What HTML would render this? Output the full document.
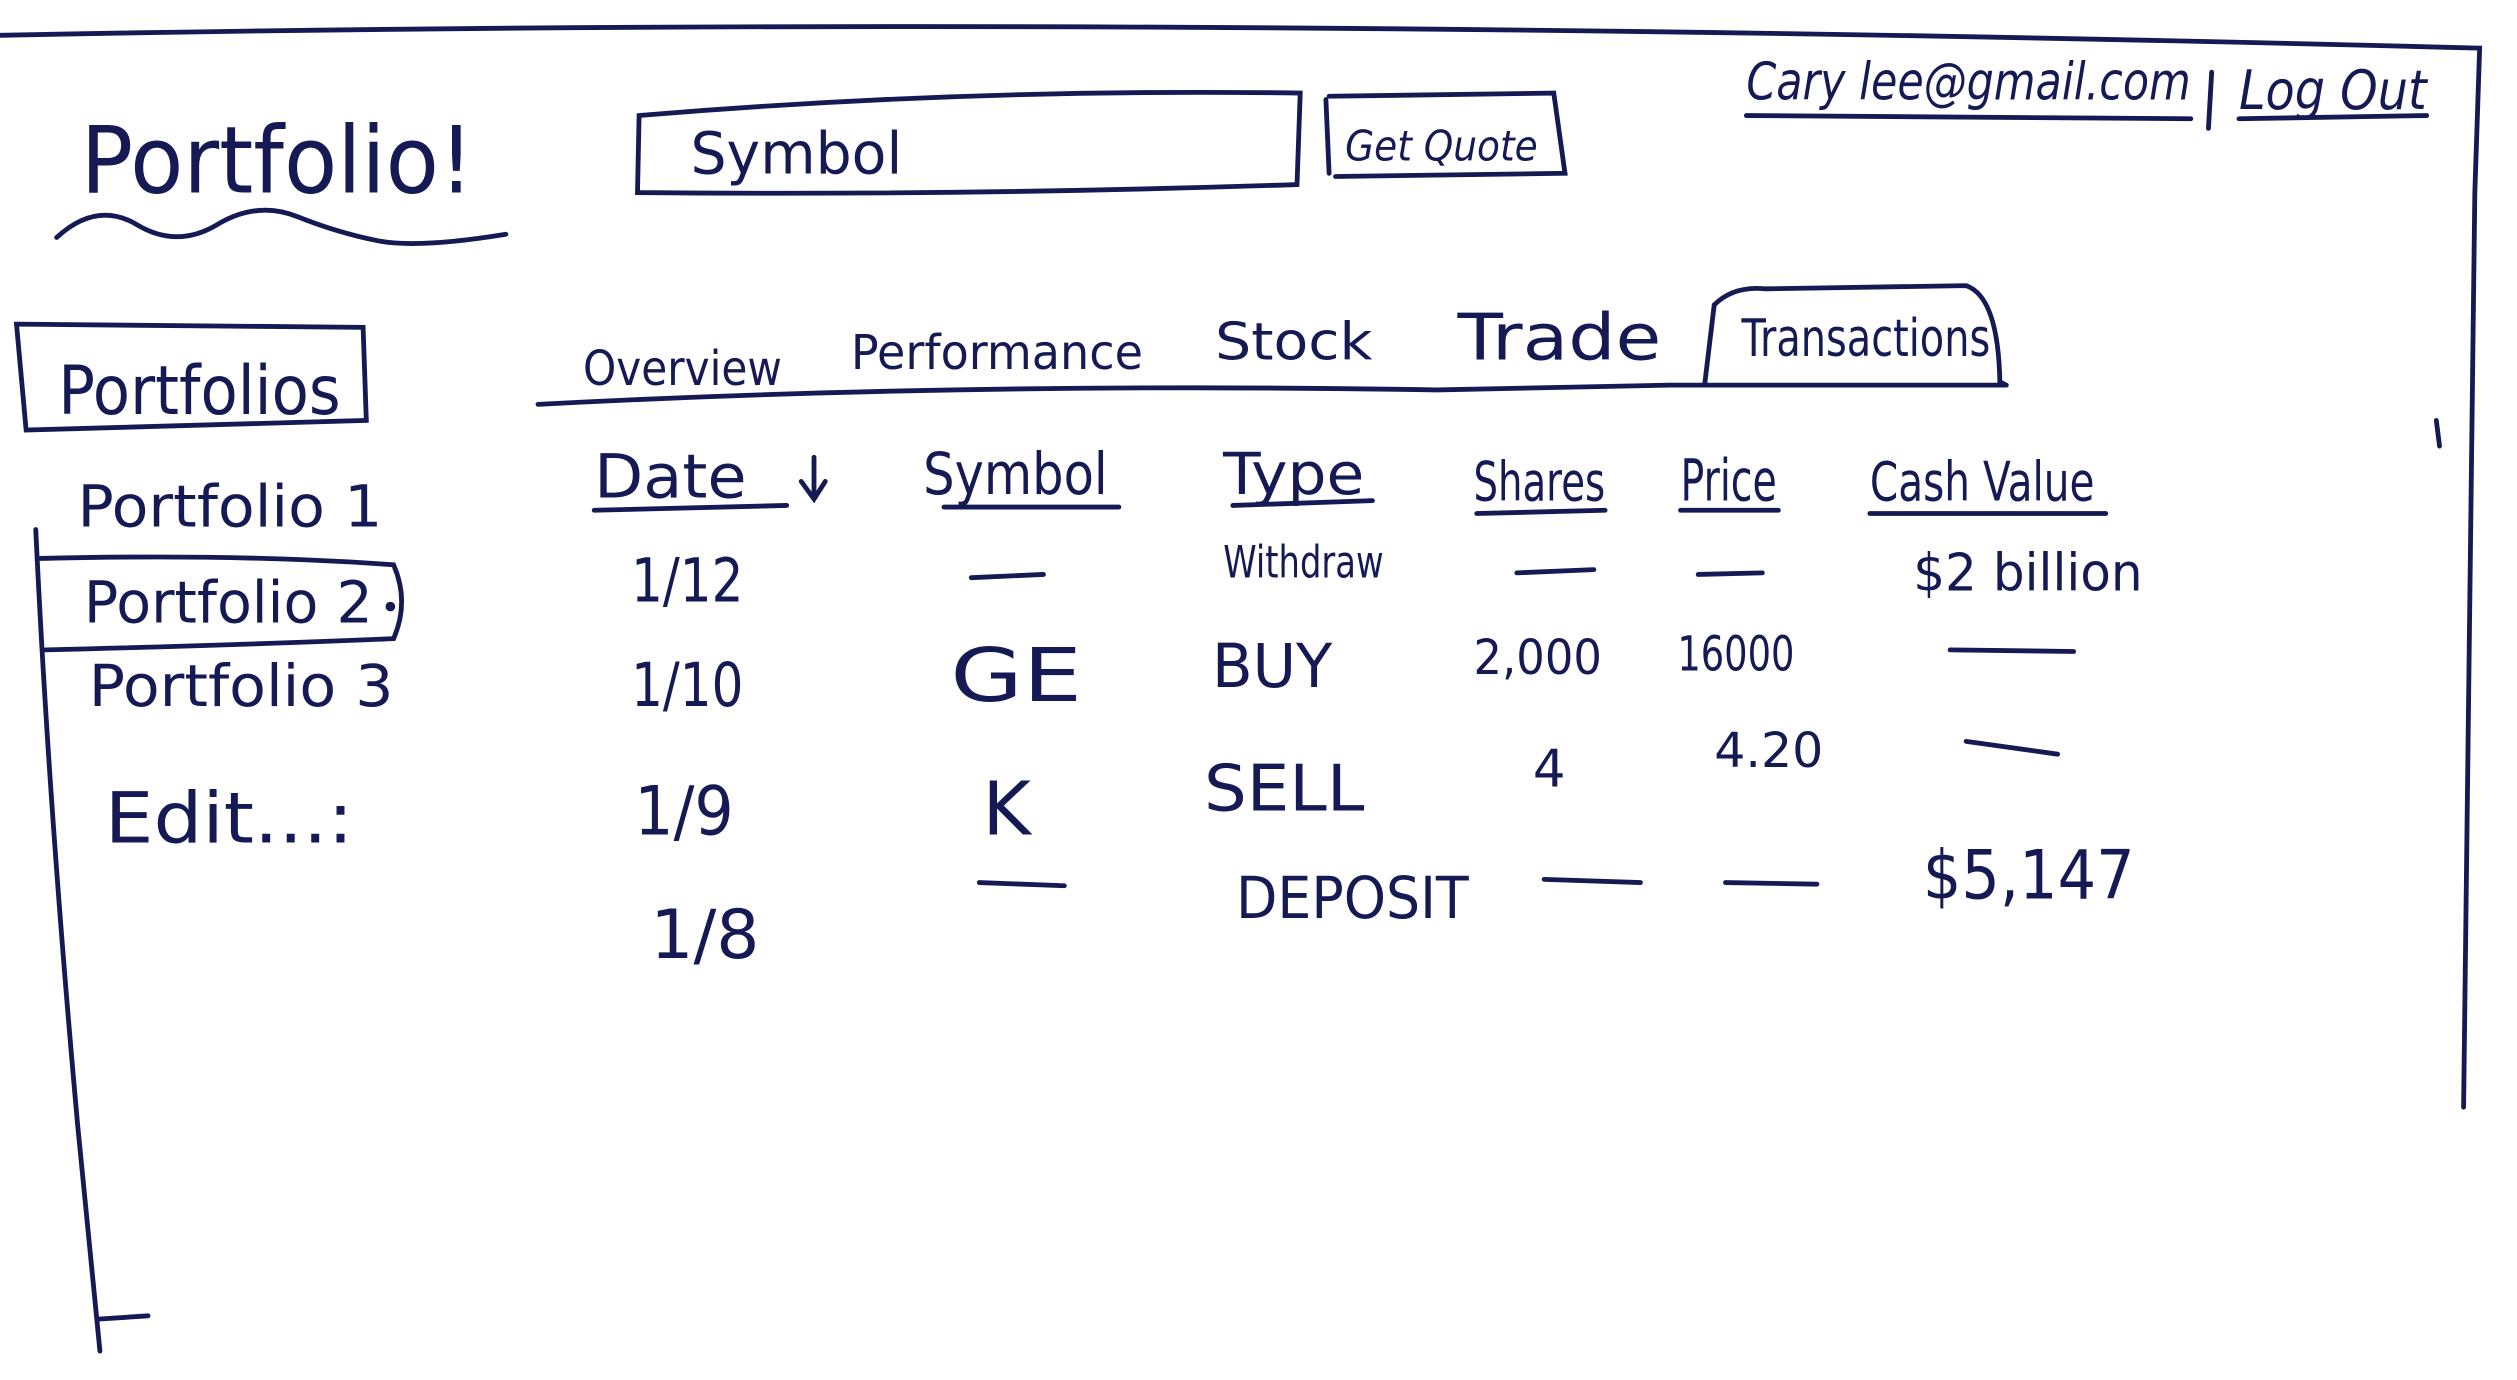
<!DOCTYPE html>
<html><head><meta charset="utf-8"><style>
html,body{margin:0;padding:0;background:#fff;width:2517px;height:1380px;overflow:hidden}
svg{display:block}
text{font-family:"DejaVu Sans","Liberation Sans",sans-serif;fill:#151a55}
</style></head><body>
<svg width="2517" height="1380" viewBox="0 0 1568 860" xmlns="http://www.w3.org/2000/svg">
<g fill="none" stroke="#151a55" stroke-width="3" stroke-linecap="round">
<path d="M0 22 Q700 8 1545 30 L1542 120 L1535 690"/>
<path d="M22 330 Q30 500 48 700 L62 842"/>
<path d="M62 822 L92 820"/>
<path d="M1518 262 L1520 278"/>
<path d="M35 148 Q60 125 85 140 T135 140 T185 135 T235 150 T315 146"/>
<path d="M398 72 Q600 55 810 58 L808 115 Q600 122 397 120 Z"/>
<path d="M828 60 L968 58 L975 108 L832 110"/>
<path d="M826 62 L828 108"/>
<path d="M1088 72 L1365 74"/>
<path d="M1378 45 L1376 80"/>
<path d="M1395 74 L1512 72"/>
<path d="M10 202 L226 204 L228 262 L16 268 Z"/>
<path d="M25 348 Q150 345 245 352 Q255 375 245 398 Q150 402 28 405"/>
<path d="M335 252 Q600 238 895 243 L1040 240"/>
<path d="M1062 240 L1068 190 Q1080 178 1100 180 L1225 178 Q1245 185 1246 238 L1250 240"/>
<path d="M1040 240 L1250 240"/>
<path d="M370 318 L490 315"/>
<path d="M588 316 L697 316"/>
<path d="M768 315 L855 312"/>
<path d="M920 320 L1000 318"/>
<path d="M1047 318 L1108 318"/>
<path d="M1165 320 L1312 320"/>
<path d="M507 285 L507 310 M499 300 L507 311 L514 300"/>
<path d="M605 360 L650 358"/>
<path d="M945 357 L993 355"/>
<path d="M1058 358 L1098 357"/>
<path d="M1215 405 L1292 406"/>
<path d="M1225 462 L1282 470"/>
<path d="M610 550 L663 552"/>
<path d="M962 548 L1022 550"/>
<path d="M1075 550 L1132 551"/>
</g>
<g lengthAdjust="spacingAndGlyphs">
<text x="50" y="120" font-size="58" textLength="245" lengthAdjust="spacingAndGlyphs">Portfolio!</text>
<text x="430" y="108" font-size="36" textLength="132" lengthAdjust="spacingAndGlyphs">Symbol</text>
<text x="838" y="100" font-size="26" font-style="italic" textLength="120" lengthAdjust="spacingAndGlyphs">Get Quote</text>
<text x="1088" y="62" font-size="32" font-style="italic" textLength="277" lengthAdjust="spacingAndGlyphs">Cary lee@gmail.com</text>
<text x="1395" y="68" font-size="34" font-style="italic" textLength="117" lengthAdjust="spacingAndGlyphs">Log Out</text>
<text x="36" y="258" font-size="42" textLength="176" lengthAdjust="spacingAndGlyphs">Portfolios</text>
<text x="48" y="328" font-size="36" textLength="190" lengthAdjust="spacingAndGlyphs">Portfolio 1</text>
<text x="52" y="388" font-size="36" textLength="180" lengthAdjust="spacingAndGlyphs">Portfolio 2</text>
<circle cx="243" cy="378" r="3" fill="#151a55"/>
<text x="55" y="440" font-size="36" textLength="190" lengthAdjust="spacingAndGlyphs">Portfolio 3</text>
<text x="65" y="525" font-size="44" textLength="155" lengthAdjust="spacingAndGlyphs">Edit...:</text>
<text x="363" y="240" font-size="30" textLength="124" lengthAdjust="spacingAndGlyphs">Overview</text>
<text x="530" y="230" font-size="30" textLength="182" lengthAdjust="spacingAndGlyphs">Performance</text>
<text x="757" y="224" font-size="32" textLength="98" lengthAdjust="spacingAndGlyphs">Stock</text>
<text x="908" y="224" font-size="40" textLength="127" lengthAdjust="spacingAndGlyphs">Trade</text>
<text x="1085" y="222" font-size="32" textLength="155" lengthAdjust="spacingAndGlyphs">Transactions</text>
<text x="370" y="310" font-size="38" textLength="95" lengthAdjust="spacingAndGlyphs">Date</text>
<text x="575" y="308" font-size="36" textLength="115" lengthAdjust="spacingAndGlyphs">Symbol</text>
<text x="762" y="308" font-size="36" textLength="88" lengthAdjust="spacingAndGlyphs">Type</text>
<text x="918" y="312" font-size="34" textLength="82" lengthAdjust="spacingAndGlyphs">Shares</text>
<text x="1047" y="312" font-size="36" textLength="60" lengthAdjust="spacingAndGlyphs">Price</text>
<text x="1165" y="312" font-size="34" textLength="140" lengthAdjust="spacingAndGlyphs">Cash Value</text>
<text x="393" y="375" font-size="38" textLength="70" lengthAdjust="spacingAndGlyphs">1/12</text>
<text x="762" y="360" font-size="28" textLength="100" lengthAdjust="spacingAndGlyphs">Withdraw</text>
<text x="1192" y="368" font-size="32" textLength="143" lengthAdjust="spacingAndGlyphs">$2 billion</text>
<text x="393" y="440" font-size="38" textLength="70" lengthAdjust="spacingAndGlyphs">1/10</text>
<text x="592" y="437" font-size="46" textLength="82" lengthAdjust="spacingAndGlyphs">GE</text>
<text x="755" y="428" font-size="38" textLength="75" lengthAdjust="spacingAndGlyphs">BUY</text>
<text x="918" y="420" font-size="30" textLength="80" lengthAdjust="spacingAndGlyphs">2,000</text>
<text x="1045" y="418" font-size="30" textLength="73" lengthAdjust="spacingAndGlyphs">16000</text>
<text x="395" y="520" font-size="42" textLength="62" lengthAdjust="spacingAndGlyphs">1/9</text>
<text x="612" y="520" font-size="46">K</text>
<text x="750" y="505" font-size="40" textLength="100" lengthAdjust="spacingAndGlyphs">SELL</text>
<text x="955" y="490" font-size="32">4</text>
<text x="1068" y="478" font-size="30" textLength="68" lengthAdjust="spacingAndGlyphs">4.20</text>
<text x="405" y="597" font-size="42" textLength="68" lengthAdjust="spacingAndGlyphs">1/8</text>
<text x="770" y="572" font-size="36" textLength="145" lengthAdjust="spacingAndGlyphs">DEPOSIT</text>
<text x="1198" y="560" font-size="42" textLength="132" lengthAdjust="spacingAndGlyphs">$5,147</text>
</g>
</svg>
</body></html>
